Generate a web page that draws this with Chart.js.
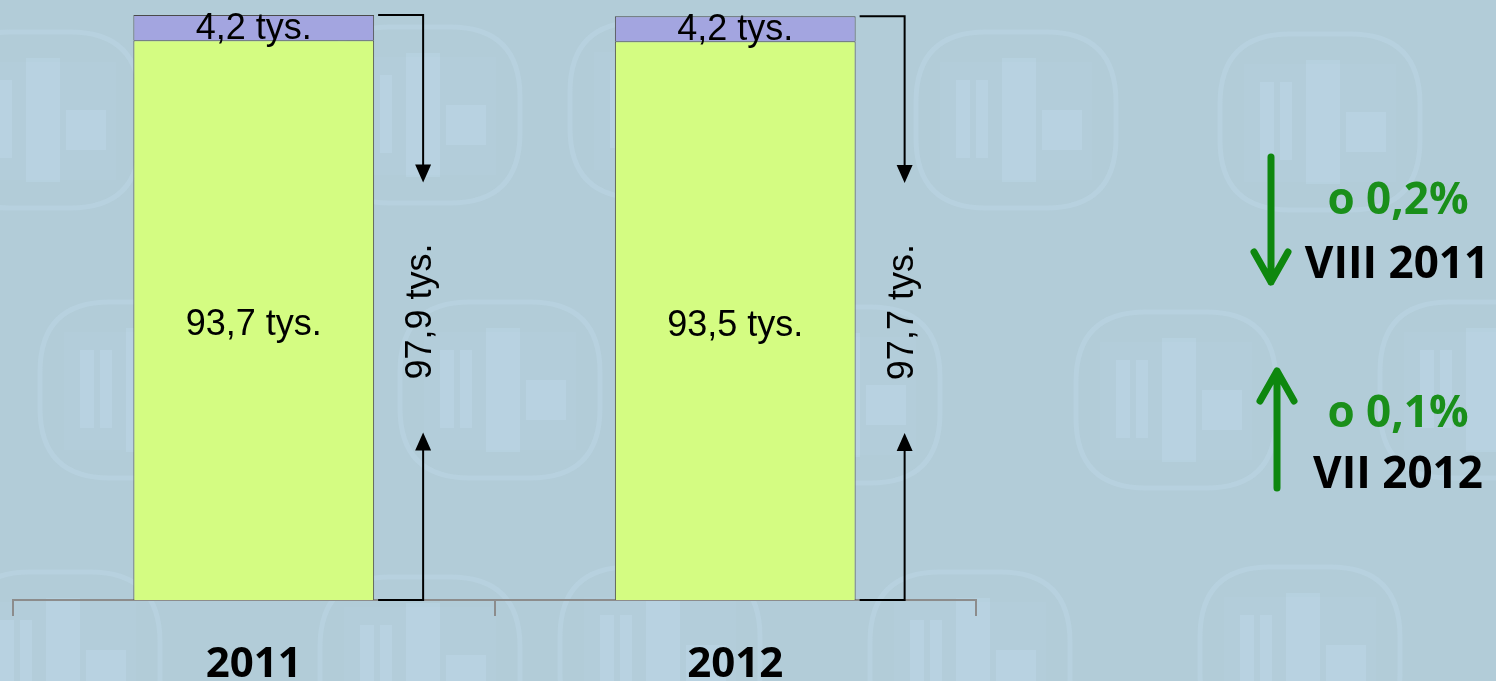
<!DOCTYPE html>
<html>
<head>
<meta charset="utf-8">
<script src="https://cdn.jsdelivr.net/npm/chart.js@4.4.0/dist/chart.umd.min.js"></script>
<style>
    html, body { margin: 0; padding: 0; background: #b2ccd8; }
    #wrap { width: 1496px; height: 681px; position: relative; }
</style>
</head>
<body>
<div id="wrap"><canvas id="barChart"></canvas></div>
<script>
// Chart data
const years = ['2011', '2012'];
const mainValues = [93.7, 93.5];   // green segment (tys.)
const topValues = [4.2, 4.2];      // lavender segment (tys.)
const changeLabels = ['o 0,2%', 'o 0,1%'];
const changePeriods = ['VIII 2011', 'VII 2012'];

// Format a number the Polish way: 93.7 -> "93,7 tys."
function fmt(v) {
    return v.toFixed(1).replace('.', ',') + ' tys.';
}

// Faint watermark logos behind the chart (decoration only)
const logoSpots = [[40, 120], [420, 115], [670, 110], [1016, 120], [1320, 122],
    [140, 390], [500, 390], [840, 395], [1176, 400], [1480, 390],
    [60, 660], [420, 665], [660, 655], [970, 660], [1300, 655]];

function roundRect(ctx, x, y, w, h, r) {
    ctx.beginPath();
    ctx.moveTo(x + r, y);
    ctx.lineTo(x + w - r, y);
    ctx.quadraticCurveTo(x + w, y, x + w, y + r);
    ctx.lineTo(x + w, y + h - r);
    ctx.quadraticCurveTo(x + w, y + h, x + w - r, y + h);
    ctx.lineTo(x + r, y + h);
    ctx.quadraticCurveTo(x, y + h, x, y + h - r);
    ctx.lineTo(x, y + r);
    ctx.quadraticCurveTo(x, y, x + r, y);
    ctx.closePath();
}

const watermarkPlugin = {
    id: 'watermark',
    beforeDraw(chart) {
        const ctx = chart.ctx;
        ctx.save();
        logoSpots.forEach(([cx, cy]) => {
            ctx.strokeStyle = 'rgba(196, 222, 238, 0.3)';
            ctx.lineWidth = 5;
            roundRect(ctx, cx - 100, cy - 88, 200, 176, 70);
            ctx.stroke();
            ctx.fillStyle = 'rgba(190, 218, 236, 0.15)';
            ctx.fillRect(cx - 76, cy - 58, 152, 118);
            // the big letters as pale blocks
            ctx.fillStyle = 'rgba(196, 224, 242, 0.25)';
            ctx.fillRect(cx - 60, cy - 40, 14, 78);
            ctx.fillRect(cx - 40, cy - 40, 12, 78);
            ctx.fillRect(cx - 14, cy - 62, 34, 124);
            ctx.fillRect(cx + 26, cy - 10, 40, 40);
        });
        ctx.restore();
    }
};

// Draws values inside the bars, the total brackets and the side notes
const annotationsPlugin = {
    id: 'annotations',
    afterDatasetsDraw(chart) {
        const ctx = chart.ctx;
        const metaMain = chart.getDatasetMeta(0);
        const metaTop = chart.getDatasetMeta(1);

        ctx.save();
        ctx.fillStyle = '#000';
        ctx.textAlign = 'center';
        ctx.textBaseline = 'middle';
        ctx.font = '36px "Liberation Sans", Arial, sans-serif';

        years.forEach((y, i) => {
            const a = metaMain.data[i];
            const b = metaTop.data[i];
            // segment labels
            ctx.fillText(fmt(mainValues[i]), a.x, (a.y + a.base) / 2 + 5);
            ctx.fillText(fmt(topValues[i]), b.x, (b.y + b.base) / 2 + 1);

            // bracket with arrows showing the total
            const right = b.x + b.width / 2;
            const lx = right + 49;
            const top = b.y;
            const bottom = a.base;
            const mid = (top + bottom) / 2;
            ctx.strokeStyle = '#000';
            ctx.lineWidth = 2;
            ctx.beginPath();
            ctx.moveTo(right + 4, top);
            ctx.lineTo(lx, top);
            ctx.lineTo(lx, mid - 142);
            ctx.moveTo(right + 4, bottom);
            ctx.lineTo(lx, bottom);
            ctx.lineTo(lx, mid + 142);
            ctx.stroke();
            ctx.beginPath();
            ctx.moveTo(lx, mid - 125);
            ctx.lineTo(lx - 8, mid - 143);
            ctx.lineTo(lx + 8, mid - 143);
            ctx.closePath();
            ctx.moveTo(lx, mid + 125);
            ctx.lineTo(lx - 8, mid + 143);
            ctx.lineTo(lx + 8, mid + 143);
            ctx.closePath();
            ctx.fill();

            const total = mainValues[i] + topValues[i];
            ctx.save();
            ctx.translate(lx - 2, mid + 4);
            ctx.rotate(-Math.PI / 2);
            ctx.fillText(fmt(total), 0, 0);
            ctx.restore();
        });

        // green change arrows
        ctx.strokeStyle = '#0e870e';
        ctx.lineWidth = 7;
        ctx.lineCap = 'round';
        ctx.lineJoin = 'round';
        ctx.beginPath();
        ctx.moveTo(1271, 157);
        ctx.lineTo(1271, 282);
        ctx.moveTo(1254, 252);
        ctx.lineTo(1271, 282);
        ctx.lineTo(1288, 252);
        ctx.stroke();
        ctx.beginPath();
        ctx.moveTo(1277, 488);
        ctx.lineTo(1277, 371);
        ctx.moveTo(1260, 401);
        ctx.lineTo(1277, 371);
        ctx.lineTo(1294, 401);
        ctx.stroke();

        ctx.font = 'bold 44px "Open Sans", sans-serif';
        ctx.textBaseline = 'alphabetic';
        ctx.fillStyle = '#1a8f1a';
        ctx.fillText(changeLabels[0], 1398, 214);
        ctx.fillText(changeLabels[1], 1398, 427);
        ctx.fillStyle = '#000';
        ctx.fillText(changePeriods[0], 1397, 278);
        ctx.fillText(changePeriods[1], 1398, 488);
        ctx.restore();
    }
};

const ctx = document.getElementById('barChart').getContext('2d');
const barChart = new Chart(ctx, {
    type: 'bar',
    data: {
        labels: years,
        datasets: [
            {
                data: mainValues,
                backgroundColor: '#d4fc82',
                borderColor: '#4a4a4a',
                borderWidth: 1,
                categoryPercentage: 1.0,
                barPercentage: 0.5
            },
            {
                data: topValues,
                backgroundColor: '#a3a5e0',
                borderColor: '#4a4a4a',
                borderWidth: 1,
                categoryPercentage: 1.0,
                barPercentage: 0.5
            }
        ]
    },
    options: {
        responsive: true,
        maintainAspectRatio: false,
        animation: false,
        layout: { padding: { left: 13, right: 520, top: 2.5, bottom: 0 } },
        plugins: {
            legend: { display: false },
            tooltip: { enabled: false }
        },
        scales: {
            x: {
                stacked: true,
                grid: {
                    drawOnChartArea: false,
                    color: '#8c8c8c',
                    tickLength: 16,
                    lineWidth: 2
                },
                border: { color: '#8c8c8c', width: 2 },
                ticks: {
                    color: '#000',
                    padding: 24,
                    font: { family: '"Open Sans", sans-serif', size: 42, weight: 'bold' }
                },
                afterFit(scale) { scale.height = 81; }
            },
            y: {
                stacked: true,
                display: false,
                min: 0,
                max: 100
            }
        }
    },
    plugins: [watermarkPlugin, annotationsPlugin]
});
</script>
</body>
</html>
